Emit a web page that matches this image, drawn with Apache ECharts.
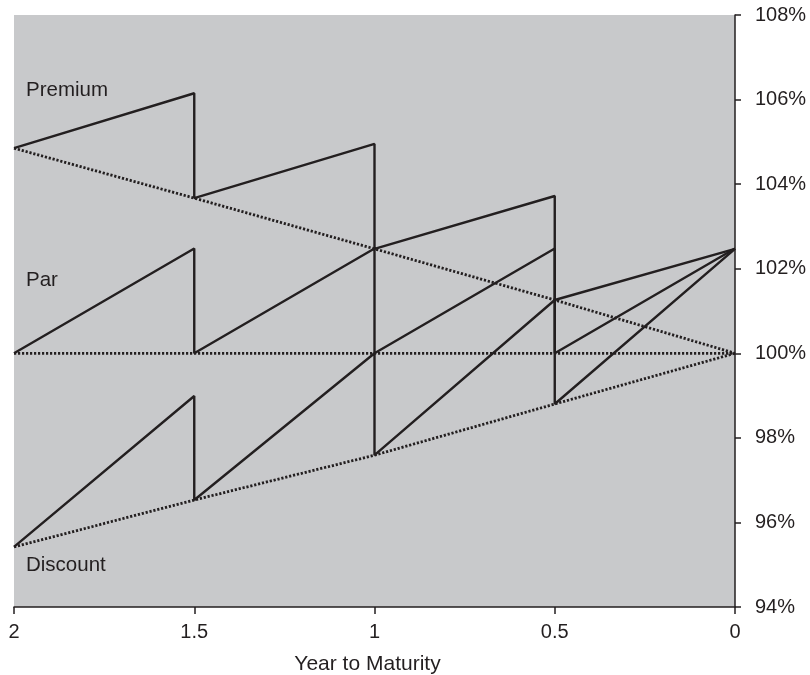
<!DOCTYPE html>
<html>
<head>
<meta charset="utf-8">
<script src="https://cdn.jsdelivr.net/npm/echarts@6/dist/echarts.min.js"></script>
<style>
html,body{margin:0;padding:0;background:#fff;}
#chart{width:810px;height:675px;}
</style>
</head>
<body>
<div id="chart"></div>
<script>
// Years to maturity (coupon dates)
var years = [2, 1.5, 1, 0.5, 0];
var yTicks = [94, 96, 98, 100, 102, 104, 106, 108];
// Clean (pull-to-par, dotted) values at each coupon date
var premiumClean = [104.85, 103.67, 102.47, 101.26, 100];
var parClean = [100, 100, 100, 100, 100];
var discountClean = [95.42, 96.53, 97.59, 98.80, 100];
// Dirty price just before each coupon payment (at years[1..4])
var premiumPeak = [106.15, 104.95, 103.72, 102.47];
var parPeak = [102.48, 102.48, 102.48, 102.48];
var discountPeak = [98.99, 100.00, 101.26, 102.47];
var labels = ["Premium", "Par", "Discount"];

function dirtyPath(clean, peak) {
  var pts = [[years[0], clean[0]]];
  for (var i = 0; i < peak.length; i++) {
    pts.push([years[i + 1], peak[i]]);
    if (i < peak.length - 1) pts.push([years[i + 1], clean[i + 1]]);
  }
  return pts;
}
function cleanPath(clean) {
  return years.map(function (y, i) { return [y, clean[i]]; });
}

var ink = '#231f20';
var font = '"Liberation Sans", Arial, Helvetica, sans-serif';
function solid(data) {
  return { type: 'line', data: data, symbol: 'none', silent: true, animation: false,
    lineStyle: { color: ink, width: 2.4 } };
}
function dotted(data) {
  return { type: 'line', data: data, symbol: 'none', silent: true, animation: false, z: 3,
    lineStyle: { color: ink, width: 2.8, type: [2.2, 1.8] } };
}

var chart = echarts.init(document.getElementById('chart'), null, { renderer: 'canvas' });
chart.setOption({
  animation: false,
  grid: { left: 14, right: 75, top: 15, bottom: 68, containLabel: false, outerBoundsMode: 'none',
    show: true, backgroundColor: '#c8c9cb', borderWidth: 0 },
  xAxis: {
    type: 'value', min: 0, max: 2, interval: 0.5, inverse: true,
    name: 'Year to Maturity', nameLocation: 'middle', nameGap: 47,
    nameTextStyle: { color: ink, fontSize: 21, fontFamily: font, padding: [0, 14, 0, 0] },
    axisLine: { show: true, lineStyle: { color: ink, width: 1.5 } },
    axisTick: { show: true, length: 7, lineStyle: { color: ink, width: 1.5 } },
    axisLabel: { color: ink, fontSize: 20, fontFamily: font, margin: 15 },
    splitLine: { show: false }
  },
  yAxis: {
    type: 'value', position: 'right', min: yTicks[0], max: yTicks[yTicks.length - 1], interval: 2,
    axisLine: { show: true, lineStyle: { color: ink, width: 1.5 } },
    axisTick: { show: true, length: 6, lineStyle: { color: ink, width: 1.5 } },
    axisLabel: { color: ink, fontSize: 20, fontFamily: font, margin: 20, formatter: '{value}%' },
    splitLine: { show: false }
  },
  series: [
    dotted(cleanPath(premiumClean)),
    dotted(cleanPath(parClean)),
    dotted(cleanPath(discountClean)),
    solid(dirtyPath(premiumClean, premiumPeak)),
    solid(dirtyPath(parClean, parPeak)),
    solid(dirtyPath(discountClean, discountPeak))
  ],
  graphic: [
    { type: 'text', left: 26, top: 80, style: { text: labels[0], fill: ink, font: '20.5px ' + font } },
    { type: 'text', left: 26, top: 270, style: { text: labels[1], fill: ink, font: '20.5px ' + font } },
    { type: 'text', left: 26, top: 555, style: { text: labels[2], fill: ink, font: '20.5px ' + font } }
  ]
});
</script>
</body>
</html>
